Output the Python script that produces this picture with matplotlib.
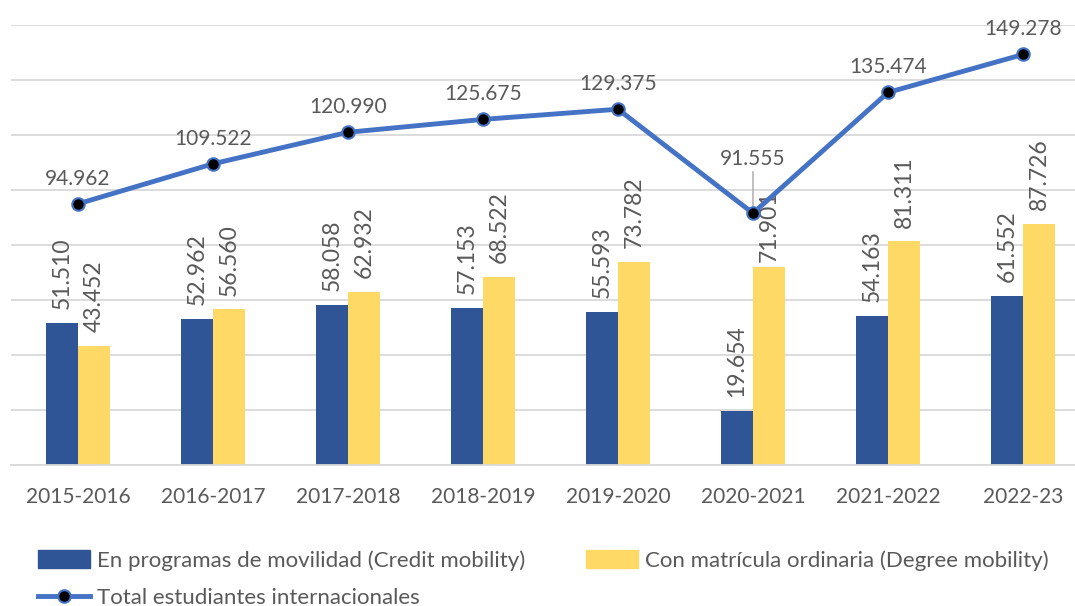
import matplotlib.pyplot as plt
import numpy as np
from matplotlib.lines import Line2D
from matplotlib.patches import Patch

# data
cursos = ['2015-2016', '2016-2017', '2017-2018', '2018-2019',
          '2019-2020', '2020-2021', '2021-2022', '2022-23']
credit = [51510, 52962, 58058, 57153, 55593, 19654, 54163, 61552]
degree = [43452, 56560, 62932, 68522, 73782, 71901, 81311, 87726]
total = [94962, 109522, 120990, 125675, 129375, 91555, 135474, 149278]

lbl_credit = 'En programas de movilidad (Credit mobility)'
lbl_degree = 'Con matrícula ordinaria (Degree mobility)'
lbl_total = 'Total estudiantes internacionales'


def fmt(v):
    return f'{v:,}'.replace(',', '.')


c_blue = '#2F5597'
c_yellow = '#FFD966'
c_line = '#4472C4'
c_text = '#595959'

plt.rcParams['font.family'] = ['Lato', 'DejaVu Sans']

W, H = 1075, 606
fig = plt.figure(figsize=(W / 100, H / 100), dpi=100)
# axes: x from -0.5..7.5 maps 10.5..1090.5 px, y 0..160000 maps 465..25 px
ax = fig.add_axes([10.5 / W, (H - 465) / H, 1080 / W, 440 / H])
ax.set_xlim(-0.5, 7.5)
ax.set_ylim(0, 160000)

x = np.arange(len(cursos))
bw = 0.237
ax.bar(x - bw / 2, credit, bw, color=c_blue, zorder=2)
ax.bar(x + bw / 2, degree, bw, color=c_yellow, zorder=2)
ax.plot(x, total, color=c_line, lw=3.5, marker='o', ms=9,
        mfc='black', mec=c_line, mew=1.5, zorder=4, clip_on=False)

for xi, v in zip(x, credit):
    ax.annotate(fmt(v), (xi - bw / 2, v), xytext=(0, 10), textcoords='offset points',
                rotation=90, ha='center', va='bottom', fontsize=16.5, color=c_text)
for xi, v in zip(x, degree):
    off = 4 if v == 71901 else 10
    ax.annotate(fmt(v), (xi + bw / 2, v), xytext=(0, off), textcoords='offset points',
                rotation=90, ha='center', va='bottom', fontsize=16.5, color=c_text)
for xi, v in zip(x, total):
    if v == 91555:
        ax.annotate(fmt(v), (xi, v), xytext=(0, 32), textcoords='offset points',
                    ha='center', va='bottom', fontsize=15, color=c_text,
                    arrowprops=dict(arrowstyle='-', color='#A6A6A6', lw=1,
                                    shrinkA=0, shrinkB=2))
    else:
        ax.annotate(fmt(v), (xi, v), xytext=(0, 11), textcoords='offset points',
                    ha='center', va='bottom', fontsize=15, color=c_text)

ax.set_yticks(np.arange(0, 160001, 20000))
ax.yaxis.grid(True, color='#D9D9D9', lw=1.3, zorder=0)
ax.set_axisbelow(True)
ax.tick_params(axis='y', left=False, labelleft=False)
ax.tick_params(axis='x', length=0, pad=16, labelsize=15, labelcolor=c_text)
ax.set_xticks(x)
ax.set_xticklabels(cursos)
for s in ['top', 'right', 'left']:
    ax.spines[s].set_visible(False)
ax.spines['bottom'].set_color('#D9D9D9')
ax.spines['bottom'].set_linewidth(1.3)

handles = [Patch(color=c_blue),
           Line2D([], [], color=c_line, lw=3.5, marker='o', ms=9,
                  mfc='black', mec=c_line, mew=1.5),
           Patch(color=c_yellow)]
labels = [lbl_credit, lbl_total, lbl_degree]
fig.legend(handles, labels, ncol=2, loc='upper left',
           bbox_to_anchor=(38 / W, 1 - 550 / H), frameon=False,
           fontsize=16, labelcolor=c_text, handlelength=2.35, handleheight=0.85,
           handletextpad=0.3, columnspacing=2.75, labelspacing=0.75,
           borderaxespad=0, borderpad=0)

fig.savefig('out.png', dpi=100)
